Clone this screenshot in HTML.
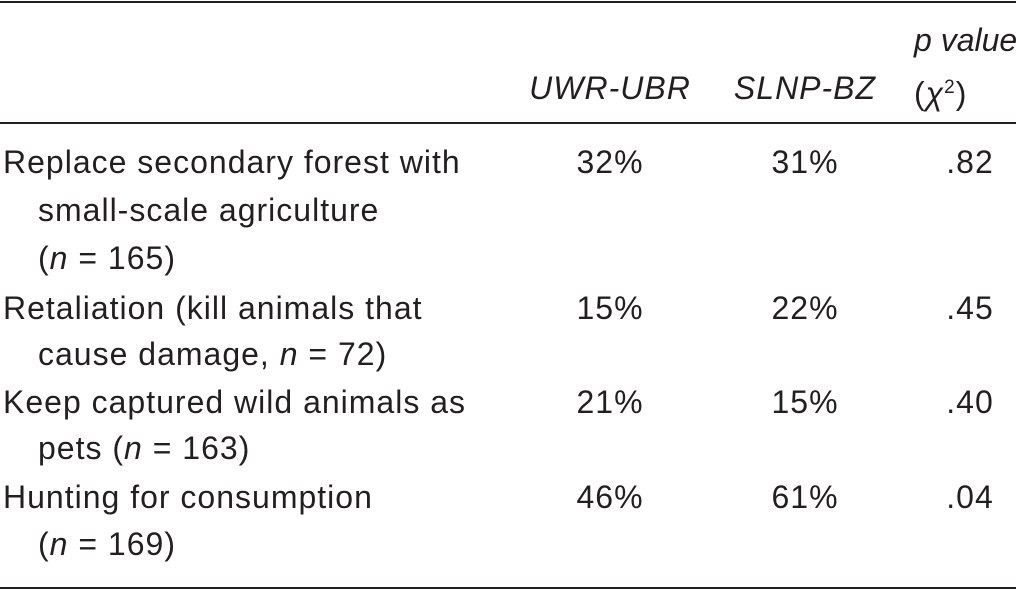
<!DOCTYPE html>
<html><head><meta charset="utf-8">
<style>
body{margin:0;background:#fff;}
#t{position:relative;width:1016px;height:591px;background:#fff;font-family:"Liberation Sans",sans-serif;font-size:32px;letter-spacing:1px;color:#231f20;overflow:hidden;}
.r{position:absolute;left:0;width:1016px;height:2px;background:#231f20;}
.x{position:absolute;white-space:nowrap;line-height:34px;}
.c{transform:translateX(-50%);}
i{font-style:italic;}
</style></head><body>
<div id="t">
<div class="r" style="top:1px"></div>
<div class="r" style="top:122px"></div>
<div class="r" style="top:587px"></div>

<div class="x c" style="left:610px;top:71px"><i>UWR-UBR</i></div>
<div class="x c" style="left:805px;top:71px"><i>SLNP-BZ</i></div>
<div class="x" style="left:914px;top:23px;letter-spacing:0"><i>p value</i></div>
<div class="x" style="left:914px;top:71px">(<i>χ</i><sup style="font-size:19px">2</sup>)</div>

<div class="x" style="left:3px;top:145px">Replace secondary forest with</div>
<div class="x" style="left:38px;top:193px">small-scale agriculture</div>
<div class="x" style="left:38px;top:241px">(<i>n</i> = 165)</div>
<div class="x c" style="left:610px;top:145px">32%</div>
<div class="x c" style="left:805px;top:145px">31%</div>
<div class="x c" style="left:970px;top:145px">.82</div>

<div class="x" style="left:3px;top:291px">Retaliation (kill animals that</div>
<div class="x" style="left:38px;top:337px">cause damage, <i>n</i> = 72)</div>
<div class="x c" style="left:610px;top:291px">15%</div>
<div class="x c" style="left:805px;top:291px">22%</div>
<div class="x c" style="left:970px;top:291px">.45</div>

<div class="x" style="left:3px;top:385px">Keep captured wild animals as</div>
<div class="x" style="left:38px;top:431px">pets (<i>n</i> = 163)</div>
<div class="x c" style="left:610px;top:385px">21%</div>
<div class="x c" style="left:805px;top:385px">15%</div>
<div class="x c" style="left:970px;top:385px">.40</div>

<div class="x" style="left:3px;top:480px">Hunting for consumption</div>
<div class="x" style="left:38px;top:527px">(<i>n</i> = 169)</div>
<div class="x c" style="left:610px;top:480px">46%</div>
<div class="x c" style="left:805px;top:480px">61%</div>
<div class="x c" style="left:970px;top:480px">.04</div>
</div>
</body></html>
